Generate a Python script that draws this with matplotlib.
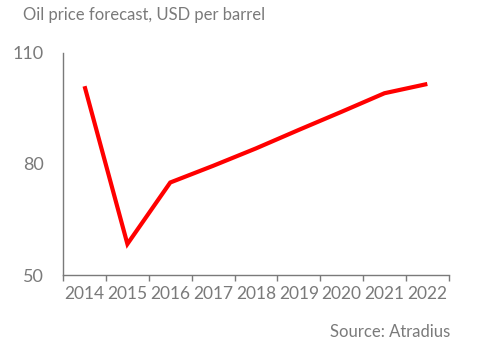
import matplotlib
matplotlib.use("Agg")
import matplotlib.pyplot as plt
import numpy as np

years = ["2014", "2015", "2016", "2017", "2018", "2019", "2020", "2021", "2022"]
prices = [101, 58.4, 75, 79.5, 84.2, 89.2, 94.1, 99.1, 101.6]
yticks = [50, 80, 110]

plt.rcParams['font.family'] = ['Lato', 'DejaVu Sans']
gray = '#7a7a7a'

fig = plt.figure(figsize=(4.82, 3.5), dpi=100)
ax = fig.add_axes([0.131, 0.214, 0.80, 0.635])
x = np.arange(len(years))
ax.plot(x, prices, color='#ff0000', lw=3, solid_joinstyle='miter', solid_capstyle='butt')

ax.set_xlim(-0.5, len(years) - 0.5)
ax.set_ylim(50, 110)
ax.set_yticks(yticks)
ax.set_yticklabels([str(v) for v in yticks])
ax.set_xticks(x)
ax.set_xticklabels(years)
ax.set_xticks(np.arange(len(years) + 1) - 0.5, minor=True)
ax.tick_params(axis='x', which='major', length=0, pad=8, labelsize=12.5, labelcolor=gray)
ax.tick_params(axis='x', which='minor', length=4, color=gray, width=1)
ax.tick_params(axis='y', length=0, pad=14, labelsize=13, labelcolor=gray)
for s in ['top', 'right']:
    ax.spines[s].set_visible(False)
for s in ['left', 'bottom']:
    ax.spines[s].set_color(gray)
    ax.spines[s].set_linewidth(1)

fig.text(23/482, 1 - 15/350, "Oil price forecast, USD per barrel", ha='left', va='center',
         fontsize=12, color=gray)
fig.text(450/482, 1 - 332/350, "Source: Atradius", ha='right', va='center',
         fontsize=12, color=gray)

fig.savefig("out.png", dpi=100)
